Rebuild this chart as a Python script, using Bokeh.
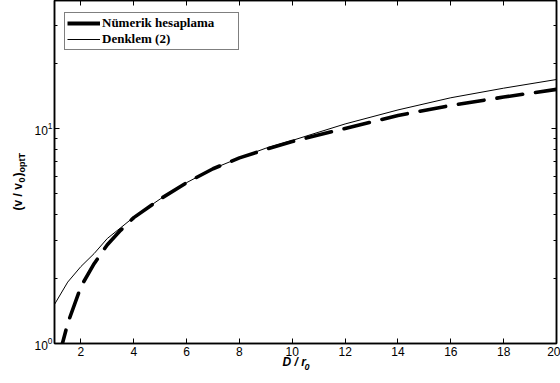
import math
from bokeh.plotting import figure
from bokeh.models import (Range1d, LinearAxis, LogAxis, Legend, LegendItem, Label,
                          FixedTicker, LogTickFormatter)
from bokeh.embed import file_html
from bokeh.resources import INLINE

# ---- data ----
x_denklem = [1.0, 1.5, 2.0, 2.5, 3.0, 3.5, 4.0, 5.0, 6.0, 7.0, 8.0, 9.0, 10.0, 12.0, 14.0, 16.0, 18.0, 20.0]
y_denklem = [1.52, 1.93, 2.28, 2.62, 3.08, 3.45, 3.87, 4.7, 5.6, 6.5, 7.3, 8.1, 8.8, 10.5, 12.2, 13.9, 15.4, 16.9]

x_numerik = [1.2, 1.3, 1.5, 2.0, 2.5, 3.0, 3.5, 4.0, 5.0, 6.0, 7.0, 8.0, 9.0, 10.0, 12.0, 14.0, 16.0, 18.0, 20.0]
y_numerik = [0.88, 1.0, 1.24, 1.84, 2.35, 2.88, 3.36, 3.85, 4.7, 5.6, 6.5, 7.3, 8.0, 8.7, 10.0, 11.5, 12.8, 14.0, 15.2]

legend_labels = ["Nümerik hesaplama", "Denklem (2)"]
x_ticks = [2, 4, 6, 8, 10, 12, 14, 16, 18, 20]
y_major = [1, 10]
y_minor = [2, 3, 4, 5, 6, 7, 8, 9, 20, 30]

NB = "\u00a0"
y_label_main = "(v / v" + NB * 2 + ")"
y_label_sub = "0" + NB * 2 + "optT"
x_label_main = "D / r"
x_label_sub = "0"

W, H = 560, 383
BL, BR, BT, BB = 54, 4, 0, 40
frame_h = H - BT - BB

p = figure(width=W, height=H, output_backend="svg", toolbar_location=None,
           y_axis_type="log",
           x_range=Range1d(1, 20), y_range=Range1d(1, 10 ** (frame_h / 215.0)),
           min_border_left=BL, min_border_right=BR, min_border_top=BT, min_border_bottom=BB)
p.background_fill_color = "white"
p.border_fill_color = "white"
p.xgrid.visible = False
p.ygrid.visible = False
p.outline_line_color = "black"
p.outline_line_width = 1.5

num = p.line(x_numerik, y_numerik, line_color="black", line_width=3.6,
             line_dash="26 13", line_cap="round")
den = p.line(x_denklem, y_denklem, line_color="black", line_width=1)

# legend proxies (solid samples, nothing drawn in the plot)
nan = float("nan")
leg_num = p.line([nan, nan], [nan, nan], line_color="black", line_width=4)
leg_den = p.line([nan, nan], [nan, nan], line_color="black", line_width=1.2)

def style_axis(ax, labels=True, minor=True):
    ax.axis_line_color = "black"
    ax.axis_line_width = 1.5
    ax.major_tick_in = 5
    ax.major_tick_out = 0
    ax.major_tick_line_color = "black"
    ax.major_tick_line_width = 1
    ax.minor_tick_in = 3
    ax.minor_tick_out = 0
    ax.minor_tick_line_color = "black" if minor else None
    ax.major_label_text_font = "Liberation Sans"
    ax.major_label_text_font_size = "12px"
    ax.major_label_text_color = "black" if labels else None
    ax.major_label_standoff = 3 if labels else 0
    ax.axis_label = None

p.xaxis.ticker = x_ticks
style_axis(p.xaxis[0], True, False)
p.yaxis[0].ticker = FixedTicker(ticks=y_major, minor_ticks=y_minor)
p.yaxis[0].formatter = LogTickFormatter()
style_axis(p.yaxis[0], True, True)
p.yaxis[0].major_label_standoff = 2

top = LinearAxis(ticker=x_ticks)
style_axis(top, False, False)
top.major_label_overrides = {t: "" for t in x_ticks}
p.add_layout(top, "above")
right = LogAxis(ticker=FixedTicker(ticks=y_major, minor_ticks=y_minor))
style_axis(right, False, True)
right.major_label_overrides = {t: "" for t in y_major}
p.add_layout(right, "right")

legend = Legend(items=[LegendItem(label=legend_labels[0], renderers=[leg_num]),
                       LegendItem(label=legend_labels[1], renderers=[leg_den])],
                location=(10, frame_h - 50))
legend.border_line_color = "black"
legend.border_line_width = 1.5
legend.background_fill_color = "white"
legend.background_fill_alpha = 1
legend.label_text_font = "Liberation Serif"
legend.label_text_font_style = "bold"
legend.label_text_font_size = "13px"
legend.label_text_line_height = 1.0
legend.label_text_color = "black"
legend.glyph_width = 33
legend.glyph_height = 12
legend.label_height = 12
legend.label_standoff = 2
legend.label_width = 134
legend.spacing = 0
legend.padding = 2
legend.margin = 0
p.add_layout(legend, "center")

# axis label pieces (canvas units, y from top), placed in the side panels
def lab(text, x, y, size, side, style="bold", angle=math.pi / 2):
    p.add_layout(Label(text=text, x=x, y=y, x_units="canvas", y_units="canvas",
                       angle=angle, text_font="Liberation Sans", text_font_style=style,
                       text_font_size=size, text_color="black",
                       text_align="left", text_baseline="middle"), side)

lab(y_label_main, 17, 210, "12px", "left")
lab(y_label_sub, 21, 182, "9px", "left")

lab(x_label_main, 282, 361, "12px", "below", "bold italic", 0)
lab(x_label_sub, 304, 366, "9px", "below", "bold italic", 0)

open("out.html", "w").write(file_html(p, INLINE))
